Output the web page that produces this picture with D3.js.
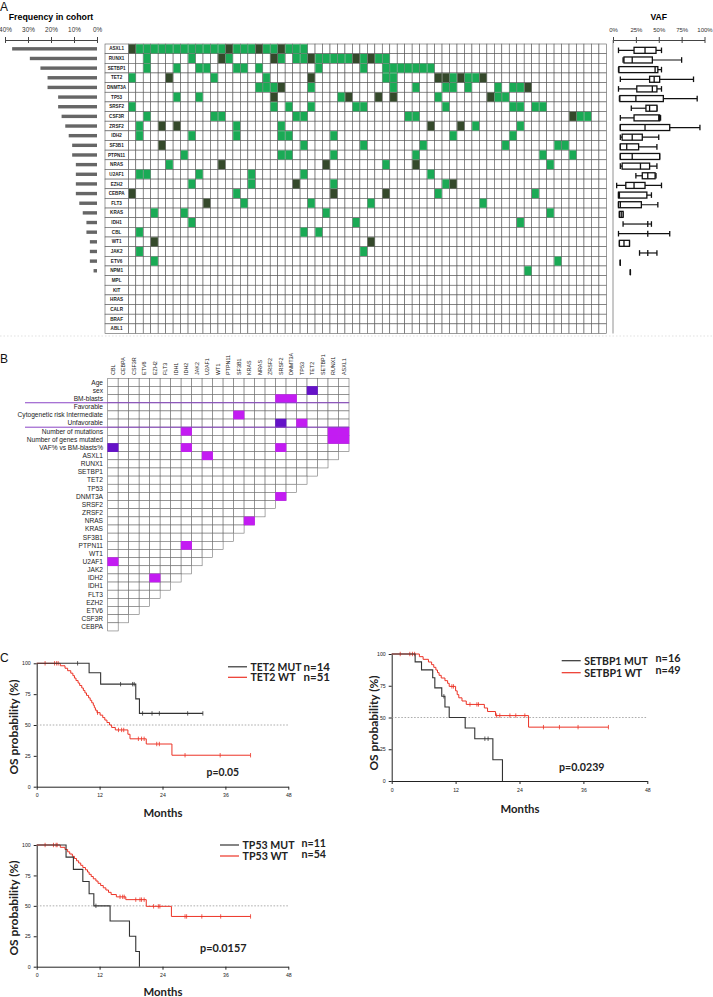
<!DOCTYPE html>
<html>
<head>
<meta charset="utf-8">
<script src="https://cdn.jsdelivr.net/npm/d3@7"></script>
<style>
  body { margin: 0; background: #fff; }
  svg { display: block; font-family: "Liberation Sans", Arial, sans-serif; }
</style>
</head>
<body>
<div id="chart"></div>
<script>
// ---------- Panel A data ----------
const genes = ["ASXL1","RUNX1","SETBP1","TET2","DNMT3A","TP53","SRSF2","CSF3R","ZRSF2","IDH2",
  "SF3B1","PTPN11","NRAS","U2AF1","EZH2","CEBPA","FLT3","KRAS","IDH1","CBL","WT1","JAK2","ETV6",
  "NPM1","MPL","KIT","HRAS","CALR","BRAF","ABL1"];

// frequency in cohort (%)
const frequency = [36.9,29.2,24.6,21.5,21.5,16.9,16.9,15.4,13.8,12.3,10.8,10.8,9.2,9.2,9.2,9.2,
  7.7,6.2,4.6,4.6,3.1,3.1,3.1,1.5,0,0,0,0,0,0];

const patients = d3.range(64);

// patient columns carrying a mutation, "*" = dark cell
const mutationRows = [
  ["ASXL1",  "0* 1 2 3 4 5 6 7 8 9 10 11 12 13* 14 15 16 17* 18 19 20* 21 22 23"],
  ["RUNX1",  "2 8 12* 13 19* 20 22 23 24* 25 26 27 28 29 30* 31 32* 33 34"],
  ["SETBP1", "2 6 9 10 14 15 17 25 31 34 35 36 37 38 39 40"],
  ["TET2",   "0 5* 11 18 24* 34 35 41* 42* 43 44* 45 46 47*"],
  ["DNMT3A", "17 18 19 20* 24 35 38 42 43 45 49 51 52 53*"],
  ["TP53",   "6 9 19* 28 29* 33* 35* 41 48* 49 50"],
  ["SRSF2",  "0 19 21 24 30 31 42 51 52 54 55"],
  ["CSF3R",  "2 11 12 22 23 37 38 59* 60 61"],
  ["ZRSF2",  "1 4* 6* 14 20 40* 44* 46 52"],
  ["IDH2",   "1 8 14 20 21 27 43 51"],
  ["SF3B1",  "4* 23 31 39 50 57 58"],
  ["PTPN11", "7 20 21 27 38 55 59"],
  ["NRAS",   "5 12* 26* 34 38* 56"],
  ["U2AF1",  "1 2 9 16 23 40"],
  ["EZH2",   "8 16 22* 27 42 43*"],
  ["CEBPA",  "0* 14 27* 34* 41 54"],
  ["FLT3",   "10* 15 24 32 47"],
  ["KRAS",   "3 7 26 56"],
  ["IDH1",   "8 30 52"],
  ["CBL",    "1 23 25"],
  ["WT1",    "3* 32*"],
  ["JAK2",   "1 31"],
  ["ETV6",   "3 57"],
  ["NPM1",   "53"]
];

// VAF boxplots (%), same order as genes (first 24)
const vafMin = [6,11,6,8,6,7,20,8,8,8,8,8,8,25,4,6,6,7,11,6,7,29,8,19];
const vafQ1  = [23,12,6.5,40,26,7.5,36,23,8,10,8,8,10,32,14,6,6,7,38,38,7,38,8,19];
const vafMed = [35,21,46,45,43,25,40,50,35,21,15,21,30,38,23,7,8,9,38,38,12,38,8,19];
const vafQ3  = [47,43,49,51,48,55,48,51,62,32,28,51,40,46,35,37,31,11,38,38,18,38,8,19];
const vafMax = [53,75,53,88,53,92,48,52,95,50,48,51,48,47,53,42,49,11,42,62,18,48,8,19];

// ---------- Panel B data ----------
const corrCols = ["CBL","CEBPA","CSF3R","ETV6","EZH2","FLT3","IDH1","IDH2","JAK2","U2AF1","WT1",
  "PTPN11","SF3B1","KRAS","NRAS","ZRSF2","SRSF2","DNMT3A","TP53","TET2","SETBP1","RUNX1","ASXL1"];
const clinicalRows = ["Age","sex","BM-blasts","Favorable","Cytogenetic risk Intermediate",
  "Unfavorable","Number of mutations","Number of genes mutated","VAF% vs BM-blasts%"];
const geneRows = ["ASXL1","RUNX1","SETBP1","TET2","TP53","DNMT3A","SRSF2","ZRSF2","NRAS","KRAS",
  "SF3B1","PTPN11","WT1","U2AF1","JAK2","IDH2","IDH1","FLT3","EZH2","ETV6","CSF3R","CEBPA"];
const associations = [
  ["sex","TET2","strong"],
  ["BM-blasts","SRSF2","pos"], ["BM-blasts","DNMT3A","pos"],
  ["Cytogenetic risk Intermediate","SF3B1","pos"],
  ["Unfavorable","SRSF2","strong"], ["Unfavorable","TP53","pos"],
  ["Number of mutations","IDH2","pos"],
  ["Number of mutations","RUNX1","pos"], ["Number of mutations","ASXL1","pos"],
  ["Number of genes mutated","RUNX1","pos"], ["Number of genes mutated","ASXL1","pos"],
  ["VAF% vs BM-blasts%","CBL","strong"], ["VAF% vs BM-blasts%","IDH2","pos"],
  ["VAF% vs BM-blasts%","SRSF2","pos"],
  ["ASXL1","U2AF1","pos"],
  ["DNMT3A","SRSF2","pos"],
  ["NRAS","KRAS","pos"],
  ["PTPN11","IDH2","pos"],
  ["U2AF1","CBL","pos"],
  ["IDH2","EZH2","pos"]
];

// ---------- Panel C data (months, OS %) ----------
const monthTicks = [0, 12, 24, 36, 48];
const osTicks = [0, 25, 50, 75, 100];

const tet2Mut = [[0,100],[10.0,92.3],[12.2,83.1],[18.9,71.2],[19.6,59.4],[31.7,59.4]];
const tet2MutCens = [7.8,16.0,18.3,18.6,20.2,22.0,23.4,28.8,31.7];
const tet2Wt = [[0,100],[4.5,98],[5.4,96],[5.9,94],[6.5,92],[6.9,90],[7.2,88],[7.5,86],[7.9,84],
  [8.2,82],[8.6,80],[8.9,78],[9.2,76],[9.5,74],[9.9,72],[10.2,70],[10.5,68],[10.8,66],[11.0,64],
  [11.2,62],[11.5,60],[12.1,58],[12.6,56],[13.0,54],[13.4,52],[13.9,50],[14.3,48],[15.0,46],
  [17.4,42.5],[17.8,38.8],[20.9,34.6],[25.8,25.5],[40.8,25.5]];
const tet2WtCens = [1.6,3.4,3.8,4.1,11.6,15.6,16.2,16.6,19.4,20.0,20.5,22.9,23.4,28.3,35.0,40.8];

const setbp1Mut = [[0,100],[4.4,93.8],[5.6,87.5],[7.7,81.3],[8.1,73.3],[9.4,66.7],[10.0,58.3],
  [10.8,50],[13.8,41.7],[15.6,33.3],[19.0,16.7],[20.8,0]];
const setbp1MutCens = [9.8,17.5,18.1];
const setbp1Wt = [[0,100],[5.2,97.9],[5.9,95.8],[6.9,93.7],[7.5,91.6],[7.9,89.5],[8.3,87.4],
  [8.6,85.3],[8.9,83.2],[9.3,81.1],[10.0,79],[10.5,76.9],[10.8,74.5],[12.0,71],[12.3,68],
  [12.6,65.5],[13.2,63],[14.0,60.3],[17.4,57.5],[18.0,54.7],[19.5,51.5],[25.7,42.4],[40.7,42.4]];
const setbp1WtCens = [1.6,3.4,3.9,4.3,11.3,11.6,14.7,16.0,16.3,19.7,20.3,22.2,23.3,25.0,28.5,31.5,35.0,40.7];

const tp53Mut = [[0,100],[5.6,90],[7.0,80],[8.8,70],[10.0,60],[10.9,50],[14.0,37.5],[17.7,25],
  [18.9,12.5],[19.6,0]];
const tp53MutCens = [11.3];
const tp53Wt = [[0,100],[4.5,98.1],[5.4,96.3],[5.9,94.4],[6.3,92.6],[6.8,90.7],[7.2,88.9],
  [7.6,87],[8.0,85.2],[8.4,83.3],[8.8,81.5],[9.3,79.6],[9.7,77.8],[10.0,75.9],[10.4,74.1],
  [10.8,72.2],[11.3,70.4],[11.7,68.5],[12.2,66.7],[12.7,64.8],[13.2,63],[13.7,61.1],[14.2,59.3],
  [15.2,57.4],[17.0,55.1],[20.9,49.6],[25.7,41.3],[40.8,41.3]];
const tp53WtCens = [1.6,3.2,3.7,3.9,15.9,16.4,16.7,18.9,19.7,20.0,20.5,22.3,23.2,23.5,28.3,28.6,31.5,35.1,40.8];

// ---------- drawing ----------
const W = 713, H = 997;
const GREEN = "#1aaa55", DARK = "#34492b", GRID = "#5a5a5a";
const MAGENTA = "#c31cf2", VIOLET = "#6512c8";
const RED = "#ec3326", BLACK = "#333";

const svg = d3.select("#chart").append("svg")
  .attr("width", W).attr("height", H)
  .attr("viewBox", `0 0 ${W} ${H}`);

const panelLabel = (t, x, y) => svg.append("text")
  .attr("x", x).attr("y", y).attr("font-size", 12).attr("fill", "#111").text(t);

// ===== Panel A =====
panelLabel("A", 0, 10.5);

const rowY = d3.scaleBand().domain(genes).range([44, 44 + genes.length * 9.65]);
const colX = d3.scaleBand().domain(patients).range([128.3, 128.3 + patients.length * 7.47]);
const rh = rowY.bandwidth();

// frequency bars
const freqX = d3.scaleLinear().domain([0, 40]).range([97, 5]);
const gf = svg.append("g");
gf.append("text").attr("x", 51).attr("y", 20).attr("text-anchor", "middle")
  .attr("font-size", 8.8).attr("font-weight", "bold").text("Frequency in cohort");
const fAxis = gf.append("g").attr("transform", "translate(0,40)")
  .call(d3.axisTop(freqX).tickValues([0, 10, 20, 30, 40]).tickFormat(d => d + "%")
    .tickSizeInner(3).tickSizeOuter(0).tickPadding(5));
fAxis.selectAll(".tick line").attr("y1", 3).attr("y2", -3).attr("stroke", "#444");
fAxis.select(".domain").attr("stroke", "#444");
fAxis.selectAll("text").attr("font-size", 6.4).attr("fill", "#333").attr("font-family", "Liberation Sans, Arial");
gf.selectAll("rect.fbar").data(genes).join("rect").attr("class", "fbar")
  .attr("x", (d, i) => freqX(frequency[i]))
  .attr("width", (d, i) => freqX(0) - freqX(frequency[i]))
  .attr("y", d => rowY(d) + rh / 2 - 1.7).attr("height", 3.4)
  .attr("fill", "#666");

// oncoprint
const mutated = new Map();
mutationRows.forEach(([gene, list]) => {
  list.split(" ").forEach(tok => {
    mutated.set(gene + "|" + parseInt(tok), tok.endsWith("*") ? DARK : GREEN);
  });
});
const cells = genes.flatMap(g => patients.map(p => ({ g, p, fill: mutated.get(g + "|" + p) || "#fff" })));
const go = svg.append("g");
go.selectAll("rect.cell").data(cells).join("rect").attr("class", "cell")
  .attr("x", d => colX(d.p)).attr("y", d => rowY(d.g))
  .attr("width", colX.bandwidth()).attr("height", rh)
  .attr("fill", "#fff").attr("stroke", GRID).attr("stroke-width", 0.6);
go.selectAll("rect.mut").data(cells.filter(d => d.fill !== "#fff")).join("rect").attr("class", "mut")
  .attr("x", d => colX(d.p) + 0.3).attr("y", d => rowY(d.g) + 0.3)
  .attr("width", colX.bandwidth() - 0.6).attr("height", rh - 0.6)
  .attr("fill", d => d.fill);
// gene label column
go.selectAll("rect.lab").data(genes).join("rect").attr("class", "lab")
  .attr("x", 105).attr("y", d => rowY(d)).attr("width", 128.3 - 105).attr("height", rh)
  .attr("fill", "#fff").attr("stroke", GRID).attr("stroke-width", 0.6);
go.selectAll("text.lab").data(genes).join("text").attr("class", "lab")
  .attr("x", 116.6).attr("y", d => rowY(d) + rh / 2 + 1.6)
  .attr("text-anchor", "middle").attr("font-size", 4.6).attr("font-weight", "bold")
  .attr("fill", "#222").text(d => d);

// VAF boxplots
const vafX = d3.scaleLinear().domain([0, 100]).range([613, 704.5]);
const gv = svg.append("g");
gv.append("text").attr("x", vafX(50)).attr("y", 20).attr("text-anchor", "middle")
  .attr("font-size", 8.6).attr("font-weight", "bold").text("VAF");
const vAxis = gv.append("g").attr("transform", "translate(0,40)")
  .call(d3.axisTop(vafX).tickValues([0, 25, 50, 75, 100]).tickFormat(d => d + "%")
    .tickSizeInner(3).tickSizeOuter(0).tickPadding(5));
vAxis.selectAll(".tick line").attr("y1", 3).attr("y2", -3).attr("stroke", "#444");
vAxis.select(".domain").attr("stroke", "#444");
vAxis.selectAll("text").attr("font-size", 6).attr("fill", "#333").attr("font-family", "Liberation Sans, Arial");
gv.append("line").attr("x1", vafX(0)).attr("x2", vafX(0))
  .attr("y1", 40).attr("y2", rowY.range()[1]).attr("stroke", "#777").attr("stroke-width", 0.8);

const vafData = vafMed.map((m, i) => ({
  g: genes[i], min: vafMin[i], q1: vafQ1[i], med: m, q3: vafQ3[i], max: vafMax[i]
}));
const bx = gv.selectAll("g.box").data(vafData).join("g").attr("class", "box")
  .attr("transform", d => `translate(0,${rowY(d.g) + rh / 2 + 1.5})`)
  .attr("stroke", "#111").attr("fill", "none");
bx.append("line").attr("x1", d => vafX(d.min)).attr("x2", d => vafX(d.max)).attr("stroke-width", 1.2);
bx.append("line").attr("x1", d => vafX(d.min)).attr("x2", d => vafX(d.min))
  .attr("y1", -2.8).attr("y2", 2.8).attr("stroke-width", 1.3);
bx.append("line").attr("x1", d => vafX(d.max)).attr("x2", d => vafX(d.max))
  .attr("y1", -2.8).attr("y2", 2.8).attr("stroke-width", 1.3);
bx.append("rect").attr("x", d => vafX(d.q1)).attr("width", d => vafX(d.q3) - vafX(d.q1))
  .attr("y", -3).attr("height", 6).attr("fill", "#fff").attr("stroke-width", 1.3);
bx.append("line").attr("x1", d => vafX(d.med)).attr("x2", d => vafX(d.med))
  .attr("y1", -3).attr("y2", 3).attr("stroke-width", 1.3);

// faint separator
svg.append("line").attr("x1", 0).attr("x2", W).attr("y1", 336).attr("y2", 336)
  .attr("stroke", "#ccc").attr("stroke-width", 0.6).attr("stroke-dasharray", "1.5,2");

// ===== Panel B =====
panelLabel("B", 0, 363);
const allRows = clinicalRows.concat(geneRows);
const cx = d3.scaleBand().domain(corrCols).range([107.7, 349]);
const ry = d3.scaleBand().domain(allRows).range([378.3, 378.3 + allRows.length * 8.15]);
const assocMap = new Map(associations.map(([r, c, k]) => [r + "|" + c, k]));
const bCells = allRows.flatMap((r, i) => {
  const n = i < clinicalRows.length ? corrCols.length : corrCols.length - 1 - (i - clinicalRows.length);
  return corrCols.slice(0, n).map(c => ({ r, c, k: assocMap.get(r + "|" + c) }));
});
const gb = svg.append("g");
gb.selectAll("rect.bc").data(bCells).join("rect").attr("class", "bc")
  .attr("x", d => cx(d.c)).attr("y", d => ry(d.r))
  .attr("width", cx.bandwidth()).attr("height", ry.bandwidth())
  .attr("fill", "#fff").attr("stroke", "#707070").attr("stroke-width", 0.6);
gb.selectAll("rect.hit").data(bCells.filter(d => d.k)).join("rect").attr("class", "hit")
  .attr("x", d => cx(d.c) - 0.3).attr("y", d => ry(d.r) - 0.3)
  .attr("width", cx.bandwidth() + 0.6).attr("height", ry.bandwidth() + 0.6)
  .attr("fill", d => d.k === "strong" ? VIOLET : MAGENTA);
gb.selectAll("text.rl").data(allRows).join("text").attr("class", "rl")
  .attr("x", 103).attr("y", d => ry(d) + ry.bandwidth() / 2 + 2.3)
  .attr("text-anchor", "end").attr("font-size", 6.6).attr("fill", "#222").text(d => d);
gb.selectAll("text.cl").data(corrCols).join("text").attr("class", "cl")
  .attr("transform", d => `translate(${cx(d) + cx.bandwidth() / 2 + 2},375) rotate(-90)`)
  .attr("text-anchor", "start").attr("font-size", 5.4).attr("fill", "#222").text(d => d);
["Favorable", "Number of mutations"].forEach(r => {
  gb.append("line").attr("x1", 25).attr("x2", cx.range()[1])
    .attr("y1", ry(r)).attr("y2", ry(r)).attr("stroke", "#8a45c6").attr("stroke-width", 1);
});

// ===== Panel C =====
panelLabel("C", 0, 662);

const lf = "Lato, 'Open Sans', sans-serif";
function boldText(g, x, y, txt, len) {
  const t = g.append("text").attr("x", x).attr("y", y)
    .attr("font-family", lf).attr("font-weight", "bold").attr("font-size", 10.8)
    .attr("fill", "#222").text(txt);
  if (len) t.attr("textLength", len).attr("lengthAdjust", "spacingAndGlyphs");
  return t;
}

function drawKM(o) {
  const x = d3.scaleLinear().domain([0, 48]).range(o.xr);
  const y = d3.scaleLinear().domain([0, 100]).range(o.yr);
  const g = svg.append("g");
  const xa = g.append("g").attr("transform", `translate(0,${o.yr[0]})`)
    .call(d3.axisBottom(x).tickValues(monthTicks).tickSizeInner(3).tickSizeOuter(0).tickPadding(4));
  const ya = g.append("g").attr("transform", `translate(${o.xr[0]},0)`)
    .call(d3.axisLeft(y).tickValues(osTicks).tickSizeInner(3).tickSizeOuter(0).tickPadding(3));
  [xa, ya].forEach(a => {
    a.selectAll("text").attr("font-size", 5.2).attr("fill", "#222").attr("font-family", "Liberation Sans, Arial");
    a.selectAll("line,path").attr("stroke", "#222").attr("stroke-width", 1);
  });
  g.append("line").attr("x1", x(0)).attr("x2", x(48)).attr("y1", y(50)).attr("y2", y(50))
    .attr("stroke", "#8a8a8a").attr("stroke-width", 0.7).attr("stroke-dasharray", "1.6,1.6");

  const line = d3.line().x(d => x(d[0])).y(d => y(d[1])).curve(d3.curveStepAfter);
  const surv = (steps, t) => steps.filter(s => s[0] <= t).pop()[1];
  [[o.wt, o.wtCens, RED, 1], [o.mut, o.mutCens, BLACK, 1.1]].forEach(([steps, cens, col, sw]) => {
    g.append("path").datum(steps).attr("d", line).attr("fill", "none")
      .attr("stroke", col).attr("stroke-width", sw);
    g.selectAll(null).data(cens).join("line")
      .attr("x1", t => x(t)).attr("x2", t => x(t))
      .attr("y1", t => y(surv(steps, t)) - 2.2).attr("y2", t => y(surv(steps, t)) + 2.2)
      .attr("stroke", col).attr("stroke-width", 0.8);
  });

  boldText(g, 0, 0, "OS probability (%)", 95)
    .attr("transform", `translate(${o.yt[0]},${o.yt[1]}) rotate(-90)`)
    .attr("x", -47.5);
  boldText(g, o.mt[0] - 19.5, o.mt[1], "Months", 39);
  o.legend.forEach((L, i) => {
    const col = i === 0 ? BLACK : RED;
    g.append("line").attr("x1", L.lx[0]).attr("x2", L.lx[1]).attr("y1", L.ly).attr("y2", L.ly)
      .attr("stroke", col).attr("stroke-width", 1.2);
    boldText(g, L.lx[1] + 3.5, L.ly + 3.8, L.label, L.w);
    boldText(g, L.nx, L.ny, L.n, L.nw);
  });
  boldText(g, o.p[0], o.p[1], o.p[2], o.p[3]);
}

drawKM({
  xr: [36.7, 288.3], yr: [786.7, 663.3],
  mut: tet2Mut, mutCens: tet2MutCens, wt: tet2Wt, wtCens: tet2WtCens,
  yt: [17.5, 727], mt: [163, 817],
  legend: [
    { lx: [228, 247], ly: 666.8, label: "TET2 MUT", w: 51, nx: 303.5, ny: 670.6, n: "n=14", nw: 26.5 },
    { lx: [228, 247], ly: 677.3, label: "TET2 WT", w: 45, nx: 303.5, ny: 681.1, n: "n=51", nw: 26.5 }
  ],
  p: [206.5, 775.5, "p=0.05", 32.5]
});
drawKM({
  xr: [391.7, 647.3], yr: [781, 654],
  mut: setbp1Mut, mutCens: setbp1MutCens, wt: setbp1Wt, wtCens: setbp1WtCens,
  yt: [377.5, 723], mt: [520, 813],
  legend: [
    { lx: [561.7, 580.7], ly: 660.7, label: "SETBP1 MUT", w: 63.5, nx: 655.5, ny: 662.4, n: "n=16", nw: 25 },
    { lx: [561.7, 580.7], ly: 672.7, label: "SETBP1 WT", w: 58, nx: 655.5, ny: 673.8, n: "n=49", nw: 25 }
  ],
  p: [559, 770.5, "p=0.0239", 45.5]
});
drawKM({
  xr: [36.7, 288.3], yr: [966.7, 845],
  mut: tp53Mut, mutCens: tp53MutCens, wt: tp53Wt, wtCens: tp53WtCens,
  yt: [17.5, 908], mt: [163, 996],
  legend: [
    { lx: [220, 239], ly: 845, label: "TP53 MUT", w: 52, nx: 301.5, ny: 847.3, n: "n=11", nw: 24.5 },
    { lx: [220, 239], ly: 856, label: "TP53 WT", w: 45.5, nx: 301.5, ny: 858.2, n: "n=54", nw: 24.5 }
  ],
  p: [200, 952, "p=0.0157", 46.5]
});
</script>
</body>
</html>
